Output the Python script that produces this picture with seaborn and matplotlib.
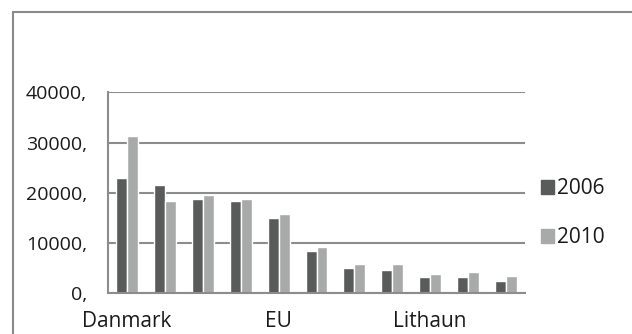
import matplotlib.pyplot as plt
import matplotlib.patches as mpatches
import pandas as pd
import seaborn as sns

# categories: only every 4th name is readable in the picture
countries = ['Danmark', 'c2', 'c3', 'c4', 'EU', 'c6', 'c7', 'c8', 'Lithaun', 'c10', 'c11']
years = ['2006', '2010']
values_2006 = [23000, 21500, 18800, 18400, 15000, 8500, 5000, 4600, 3200, 3200, 2400]
values_2010 = [31400, 18400, 19600, 18800, 15700, 9200, 5800, 5800, 3900, 4300, 3500]
yticks = [0, 10000, 20000, 30000, 40000]

df = pd.DataFrame({
    'country': countries * 2,
    'year': [years[0]] * len(countries) + [years[1]] * len(countries),
    'value': values_2006 + values_2010,
})

sns.set_theme(style='white')
plt.rcParams['font.family'] = ['Open Sans', 'DejaVu Sans']

dark = '#595b5b'
light = '#a8aaaa'
grid_col = '#8c8c8c'
text_col = '#1a1a1a'

fig = plt.figure(figsize=(6.32, 3.34), dpi=100)
ax = fig.add_axes([108 / 632, 1 - 293.3 / 334, 417 / 632, 201 / 334])

sns.barplot(data=df, x='country', y='value', hue='year', order=countries,
            palette=[dark, light], width=0.58, saturation=1, ax=ax, legend=False)

ax.set_ylim(0, 40000)
ax.set_xlim(-0.5, len(countries) - 0.5)
ax.set_yticks(yticks)
ax.set_yticklabels([f'{v},' for v in yticks], fontsize=14, color=text_col)
ax.set_xticks(range(len(countries)))
ax.set_xticklabels([c if i % 4 == 0 else '' for i, c in enumerate(countries)],
                   fontsize=15, color=text_col)
ax.tick_params(axis='y', length=0, pad=15)
ax.tick_params(axis='x', length=0, pad=13)
ax.set_xlabel('')
ax.set_ylabel('')
ax.yaxis.grid(True, color=grid_col, linewidth=1.5)
ax.set_axisbelow(True)
for side in ['top', 'right']:
    ax.spines[side].set_visible(False)
for side in ['left', 'bottom']:
    ax.spines[side].set_color(grid_col)
    ax.spines[side].set_linewidth(1.5)
ax.spines['bottom'].set_zorder(3)

handles = [mpatches.Patch(color=dark, label=years[0]),
           mpatches.Patch(color=light, label=years[1])]
fig.legend(handles=handles, loc='center left', bbox_to_anchor=(522 / 632, 1 - 213 / 334),
           frameon=False, fontsize=15, handlelength=0.65, handleheight=0.65,
           handletextpad=0.15, labelspacing=1.35, labelcolor=text_col)

# chart border (cropped on the right and bottom)
fig.add_artist(mpatches.Rectangle((13 / 632, -0.1), 1.0, 1 - 12 / 334 + 0.1,
                                  transform=fig.transFigure, fill=False,
                                  edgecolor='#8a8a8a', linewidth=1.5))

fig.savefig('out.png', dpi=100)
